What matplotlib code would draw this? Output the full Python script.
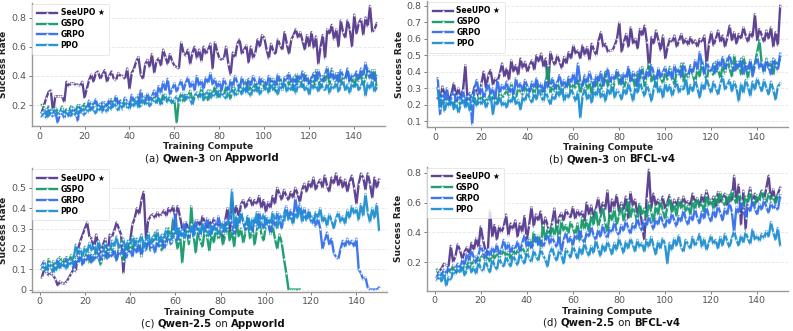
import matplotlib
matplotlib.use("Agg")
import matplotlib.pyplot as plt
import numpy as np

# ---- data (success rate, percent) ----
a_seeupo = [15, 20, 25, 29, 30, 15, 26, 26, 26, 26, 22, 36, 33, 35, 35, 34, 34, 33, 36, 25,
            31, 37, 41, 36, 42, 43, 38, 41, 44, 36, 40, 43, 38, 37, 42, 40, 40, 38, 45, 31,
            42, 45, 50, 53, 41, 38, 48, 51, 46, 55, 42, 50, 52, 47, 58, 53, 48, 55, 50, 47,
            46, 45, 63, 56, 54, 58, 48, 56, 60, 52, 58, 50, 60, 55, 58, 62, 45, 63, 57, 52,
            51, 52, 60, 48, 41, 56, 53, 62, 65, 55, 58, 61, 49, 60, 52, 56, 65, 60, 68, 66,
            58, 52, 62, 57, 55, 65, 61, 58, 70, 62, 55, 65, 68, 72, 66, 70, 64, 58, 68, 60,
            70, 59, 67, 48, 60, 68, 52, 72, 69, 75, 65, 72, 60, 78, 70, 66, 78, 72, 60, 82,
            69, 76, 79, 68, 80, 74, 88, 70, 72, 76]
a_gspo = [20, 18, 16, 19, 14, 17, 18, 16, 15, 19, 14, 17, 16, 19, 18, 15, 20, 17, 18, 21,
          17, 19, 22, 18, 21, 20, 16, 22, 19, 18, 22, 24, 19, 26, 21, 23, 20, 25, 18, 22,
          20, 24, 21, 27, 19, 23, 26, 21, 25, 23, 27, 22, 25, 20, 28, 24, 22, 26, 21, 23,
          8, 24, 28, 22, 27, 25, 30, 23, 26, 29, 24, 32, 26, 28, 23, 30, 27, 33, 25, 29,
          31, 26, 33, 28, 24, 35, 30, 27, 34, 29, 32, 37, 28, 34, 30, 36, 29, 33, 38, 31,
          35, 30, 38, 33, 29, 36, 39, 32, 35, 40, 33, 37, 30, 41, 35, 38, 32, 42, 36, 34,
          39, 33, 44, 37, 31, 40, 36, 43, 34, 45, 38, 35, 42, 33, 40, 37, 44, 35, 39, 32,
          41, 36, 43, 34, 38, 45, 42, 36, 44, 31]
a_grpo = [12, 15, 11, 18, 14, 12, 16, 8, 13, 15, 11, 17, 14, 12, 18, 16, 9, 20, 15, 13,
          17, 23, 16, 20, 24, 18, 21, 15, 22, 19, 24, 18, 21, 26, 20, 23, 17, 25, 22, 19,
          27, 22, 25, 19, 30, 24, 21, 28, 23, 26, 30, 25, 33, 28, 36, 30, 38, 27, 31, 35,
          29, 33, 37, 30, 35, 39, 32, 36, 30, 40, 33, 37, 31, 39, 35, 42, 34, 38, 32, 36,
          30, 38, 34, 29, 37, 33, 40, 35, 31, 39, 34, 29, 38, 33, 40, 36, 31, 39, 35, 37,
          32, 40, 35, 38, 33, 41, 36, 30, 39, 37, 42, 35, 39, 33, 41, 37, 43, 36, 40, 34,
          38, 42, 36, 44, 39, 35, 41, 46, 38, 43, 37, 42, 35, 44, 40, 38, 45, 36, 41, 39,
          43, 37, 45, 40, 49, 42, 38, 44, 36, 40]
a_ppo = [15, 13, 17, 12, 16, 14, 18, 13, 15, 17, 14, 16, 12, 18, 15, 13, 17, 14, 19, 16,
         18, 15, 20, 17, 14, 19, 16, 21, 18, 15, 20, 17, 22, 19, 16, 21, 18, 23, 20, 17,
         22, 19, 24, 18, 21, 25, 20, 23, 19, 22, 24, 21, 26, 20, 23, 27, 22, 25, 21, 24,
         26, 22, 25, 28, 23, 27, 24, 20, 26, 28, 25, 29, 23, 27, 30, 24, 28, 26, 31, 25,
         29, 27, 24, 30, 28, 32, 26, 29, 31, 27, 33, 28, 30, 26, 32, 29, 34, 27, 31, 30,
         33, 28, 35, 30, 32, 27, 34, 31, 36, 29, 33, 30, 35, 28, 34, 32, 36, 30, 33, 27,
         35, 31, 34, 29, 36, 32, 30, 35, 28, 34, 31, 36, 29, 33, 37, 30, 34, 28, 35, 32,
         36, 30, 33, 38, 26, 35, 31, 37, 29, 33]

b_seeupo = [24, 22, 31, 26, 28, 22, 27, 33, 25, 30, 24, 29, 44, 22, 27, 25, 31, 28, 24, 33,
            40, 30, 38, 41, 32, 36, 34, 39, 45, 37, 42, 35, 47, 40, 44, 38, 48, 42, 46, 40,
            44, 47, 41, 50, 46, 51, 43, 48, 30, 52, 47, 44, 50, 46, 42, 49, 45, 52, 48, 56,
            51, 53, 48, 56, 50, 55, 47, 57, 53, 50, 59, 64, 55, 57, 52, 53, 53, 56, 60, 70,
            52, 58, 63, 55, 67, 57, 60, 54, 66, 62, 68, 58, 40, 61, 57, 65, 59, 53, 62, 48,
            55, 60, 58, 62, 55, 59, 63, 57, 60, 56, 61, 57, 59, 55, 60, 58, 62, 44, 57, 64,
            56, 60, 65, 58, 62, 55, 61, 68, 59, 64, 57, 63, 60, 67, 62, 58, 64, 61, 75, 59,
            66, 62, 58, 65, 60, 67, 55, 64, 56, 80]
b_gspo = [30, 24, 20, 22, 25, 21, 23, 19, 24, 22, 20, 23, 25, 21, 24, 26, 22, 20, 25, 23,
          26, 22, 24, 27, 23, 25, 21, 28, 24, 26, 29, 25, 33, 27, 24, 30, 28, 26, 32, 27,
          29, 31, 25, 34, 28, 30, 26, 33, 44, 27, 31, 28, 34, 29, 27, 32, 30, 35, 28, 33,
          30, 36, 27, 32, 38, 29, 34, 26, 35, 31, 37, 29, 33, 40, 31, 36, 28, 34, 41, 32,
          38, 30, 35, 42, 33, 37, 29, 40, 35, 43, 31, 39, 45, 34, 38, 30, 42, 36, 33, 40,
          35, 43, 37, 32, 41, 38, 45, 34, 40, 36, 44, 38, 33, 42, 37, 47, 39, 35, 43, 40,
          38, 46, 41, 36, 44, 39, 48, 42, 37, 50, 41, 46, 38, 49, 43, 36, 47, 40, 45, 52,
          59, 44, 39, 48, 42, 46, 38, 47, 43, 49]
b_grpo = [36, 14, 27, 22, 30, 19, 25, 28, 21, 26, 23, 29, 20, 25, 27, 8, 30, 35, 26, 31,
          24, 28, 33, 26, 30, 23, 35, 27, 32, 29, 34, 27, 31, 25, 36, 30, 33, 28, 35, 31,
          27, 34, 30, 36, 29, 33, 27, 35, 30, 32, 36, 29, 33, 38, 31, 35, 30, 37, 33, 39,
          32, 45, 34, 31, 37, 33, 40, 35, 30, 38, 34, 40, 31, 36, 42, 33, 38, 35, 41, 37,
          32, 39, 36, 43, 34, 40, 37, 31, 42, 38, 35, 41, 37, 44, 39, 34, 42, 36, 40, 43,
          37, 41, 35, 44, 39, 42, 36, 45, 40, 38, 43, 39, 47, 41, 52, 44, 38, 46, 42, 40,
          45, 39, 47, 43, 49, 41, 46, 50, 44, 40, 46, 42, 48, 38, 45, 41, 47, 37, 44, 49,
          42, 46, 40, 47, 43, 38, 48, 44, 41, 51]
b_ppo = [30, 18, 24, 16, 22, 19, 23, 17, 21, 15, 20, 24, 18, 22, 16, 21, 25, 19, 23, 20,
         24, 18, 22, 26, 14, 23, 20, 25, 19, 22, 18, 24, 21, 26, 20, 23, 17, 25, 22, 28,
         24, 21, 27, 23, 30, 25, 22, 28, 24, 20, 26, 23, 29, 25, 31, 22, 27, 24, 30, 26,
         22, 28, 12, 25, 30, 23, 27, 21, 29, 25, 31, 24, 28, 22, 30, 26, 32, 24, 29, 27,
         23, 30, 26, 33, 28, 22, 31, 27, 34, 29, 25, 32, 28, 22, 30, 35, 27, 31, 24, 33,
         28, 32, 25, 30, 34, 27, 31, 29, 36, 26, 32, 28, 35, 30, 24, 33, 29, 36, 31, 27,
         34, 30, 26, 33, 37, 29, 32, 35, 28, 34, 30, 22, 33, 27, 35, 31, 25, 34, 29, 36,
         32, 28, 35, 30, 26, 34, 29, 23, 31, 33]

c_seeupo = [6, 10, 9, 7, 8, 7, 5, 2, 4, 3, 3, 4, 6, 8, 10, 9, 20, 24, 27, 30,
            33, 26, 25, 20, 27, 22, 18, 22, 25, 17, 27, 26, 29, 33, 30, 27, 8, 22, 20, 24,
            32, 35, 40, 37, 44, 48, 25, 34, 36, 37, 35, 38, 36, 37, 39, 36, 40, 38, 41, 35,
            41, 36, 30, 28, 33, 27, 33, 30, 32, 34, 31, 36, 33, 30, 34, 31, 35, 29, 33, 31,
            25, 34, 40, 28, 44, 37, 41, 35, 42, 44, 40, 43, 45, 41, 44, 42, 46, 40, 44, 38,
            43, 40, 46, 42, 50, 47, 44, 49, 46, 44, 48, 45, 50, 47, 43, 49, 52, 48, 53, 50,
            55, 49, 52, 54, 50, 56, 51, 48, 55, 52, 57, 51, 55, 50, 54, 48, 53, 56, 50, 42,
            52, 57, 55, 49, 57, 52, 45, 55, 50, 54]
c_gspo = [10, 13, 8, 15, 11, 14, 9, 13, 16, 12, 15, 11, 14, 17, 10, 16, 13, 18, 12, 15,
          19, 13, 17, 14, 20, 16, 12, 18, 15, 19, 16, 21, 17, 15, 20, 18, 14, 22, 17, 23,
          19, 25, 18, 22, 16, 24, 20, 26, 19, 23, 28, 21, 25, 19, 27, 22, 30, 24, 35, 26,
          20, 28, 13, 25, 30, 22, 41, 27, 18, 29, 24, 21, 30, 26, 19, 28, 23, 31, 25, 29,
          22, 27, 32, 24, 29, 21, 33, 26, 30, 23, 28, 34, 25, 31, 22, 29, 35, 27, 24, 32,
          35, 27, 31, 25, 20, 27, 23, 15, 8, 0, 0, 0, 0, 0, 0]
c_grpo = [12, 14, 8, 11, 13, 9, 12, 15, 10, 13, 11, 16, 12, 14, 10, 15, 13, 17, 12, 16,
          14, 18, 13, 17, 15, 19, 14, 16, 20, 15, 18, 16, 20, 14, 19, 17, 21, 15, 18, 20,
          16, 22, 18, 24, 17, 21, 19, 25, 20, 23, 18, 24, 21, 26, 20, 23, 27, 22, 25, 38,
          24, 30, 26, 33, 28, 25, 31, 27, 34, 29, 26, 32, 28, 35, 30, 27, 33, 29, 36, 31,
          28, 34, 30, 37, 32, 27, 35, 31, 38, 33, 29, 36, 32, 28, 35, 31, 38, 33, 30, 36,
          32, 28, 35, 31, 38, 34, 30, 37, 41, 35, 39, 33, 45, 37, 42, 36, 40, 34, 38, 33,
          36, 31, 35, 30, 20, 24, 28, 22, 25, 18, 16, 15, 20, 24, 21, 25, 22, 24, 21, 25,
          10, 8, 5, 6, 1, 0, 0, 0, 0, 1]
c_ppo = [10, 12, 9, 13, 11, 8, 12, 10, 14, 11, 13, 10, 14, 12, 15, 22, 17, 20, 16, 21,
         18, 23, 19, 22, 17, 24, 20, 18, 23, 21, 19, 24, 21, 26, 20, 23, 25, 19, 24, 22,
         26, 21, 25, 23, 27, 20, 24, 28, 22, 26, 24, 29, 23, 27, 25, 30, 26, 24, 29, 27,
         31, 26, 29, 25, 30, 28, 32, 26, 29, 31, 27, 33, 28, 30, 26, 32, 29, 31, 27, 30,
         33, 28, 31, 34, 49, 30, 36, 32, 38, 33, 31, 36, 29, 35, 32, 38, 30, 34, 37, 31,
         35, 32, 38, 34, 30, 37, 35, 33, 40, 34, 36, 32, 38, 35, 41, 33, 37, 34, 39, 35,
         32, 38, 35, 40, 33, 36, 31, 37, 34, 30, 35, 38, 33, 36, 32, 39, 35, 41, 37, 40,
         34, 42, 36, 47, 38, 33, 40, 35, 42, 29]

d_seeupo = [10, 14, 16, 19, 18, 17, 31, 20, 24, 32, 28, 22, 27, 30, 25, 33, 28, 36, 30, 44,
            35, 28, 25, 55, 37, 45, 35, 44, 40, 44, 52, 38, 46, 42, 48, 37, 46, 40, 51, 35,
            45, 57, 44, 52, 48, 54, 42, 50, 45, 38, 47, 56, 42, 50, 53, 48, 55, 52, 50, 57,
            49, 55, 51, 54, 47, 60, 52, 58, 50, 56, 63, 53, 60, 55, 68, 50, 62, 57, 65, 54,
            60, 55, 64, 49, 67, 58, 62, 52, 59, 45, 35, 63, 82, 56, 66, 58, 62, 57, 64, 56,
            60, 65, 55, 62, 58, 63, 57, 64, 59, 61, 58, 66, 60, 63, 57, 65, 60, 68, 62, 59,
            64, 57, 67, 60, 63, 66, 58, 65, 61, 78, 60, 72, 45, 68, 42, 63, 70, 58, 66, 60,
            64, 68, 62, 70, 78, 61, 69, 60, 66, 70]
d_gspo = [15, 10, 12, 14, 11, 16, 13, 18, 12, 15, 17, 14, 20, 16, 22, 18, 21, 24, 19, 23,
          25, 21, 24, 20, 26, 22, 27, 23, 25, 28, 24, 27, 22, 29, 25, 28, 26, 30, 27, 24,
          36, 29, 40, 33, 38, 30, 45, 35, 42, 37, 44, 38, 46, 34, 48, 41, 45, 39, 47, 43,
          38, 46, 34, 50, 42, 48, 40, 52, 45, 55, 44, 50, 57, 47, 40, 53, 48, 56, 45, 51,
          58, 48, 54, 62, 50, 57, 53, 46, 59, 52, 56, 50, 60, 54, 47, 58, 52, 61, 55, 49,
          57, 63, 53, 59, 51, 62, 56, 60, 54, 58, 52, 61, 55, 63, 57, 60, 53, 65, 58, 62,
          56, 64, 59, 67, 61, 58, 65, 60, 68, 63, 59, 66, 62, 57, 64, 60, 67, 62, 58, 65,
          61, 68, 63, 60, 66, 62, 64, 59, 65, 63]
d_grpo = [10, 13, 11, 15, 12, 17, 14, 12, 16, 19, 15, 22, 18, 26, 21, 28, 23, 19, 25, 31,
          27, 22, 29, 24, 30, 26, 32, 25, 29, 35, 28, 33, 26, 31, 29, 34, 27, 33, 38, 30,
          35, 29, 33, 38, 31, 36, 30, 34, 39, 32, 37, 33, 30, 38, 27, 35, 40, 33, 37, 31,
          39, 35, 42, 36, 33, 40, 37, 44, 38, 35, 42, 37, 45, 39, 36, 43, 40, 47, 41, 38,
          45, 41, 48, 43, 39, 46, 42, 50, 44, 41, 48, 44, 51, 46, 42, 49, 45, 52, 47, 43,
          50, 46, 53, 48, 44, 51, 47, 55, 49, 45, 52, 48, 56, 50, 46, 54, 49, 57, 51, 47,
          55, 50, 58, 53, 48, 56, 52, 60, 54, 40, 57, 53, 61, 55, 50, 58, 54, 62, 56, 52,
          59, 55, 62, 57, 53, 60, 56, 58, 55, 65]
d_ppo = [8, 11, 7, 13, 4, 10, 8, 14, 12, 16, 13, 18, 11, 15, 19, 13, 17, 12, 20, 16,
         14, 21, 17, 13, 22, 18, 15, 23, 19, 17, 24, 20, 17, 25, 21, 18, 26, 22, 19, 27,
         23, 20, 28, 24, 21, 29, 25, 22, 17, 26, 30, 24, 21, 28, 25, 19, 29, 26, 23, 31,
         27, 22, 30, 25, 33, 28, 24, 31, 26, 35, 29, 24, 32, 27, 34, 30, 25, 33, 28, 36,
         31, 26, 34, 29, 36, 32, 27, 35, 30, 33, 27, 35, 30, 37, 31, 25, 34, 29, 36, 32,
         19, 33, 28, 36, 31, 38, 30, 27, 35, 32, 29, 37, 31, 34, 39, 30, 36, 28, 33, 38,
         32, 35, 29, 37, 31, 39, 34, 30, 36, 41, 35, 31, 38, 33, 40, 36, 32, 42, 35, 38,
         34, 39, 36, 41, 37, 47, 40, 35, 43, 31]

methods = ["SeeUPO \u2605", "GSPO", "GRPO", "PPO"]
colors = ["#553a8c", "#16996b", "#3470ea", "#1f8fd0"]

panels = [
    dict(series=[a_seeupo, a_gspo, a_grpo, a_ppo], model="Qwen-3", env="Appworld", tag="(a)",
         rect=[0.040, 0.619, 0.445, 0.372], ylim=(0.056, 0.90), yticks=[0.2, 0.4, 0.6, 0.8]),
    dict(series=[b_seeupo, b_gspo, b_grpo, b_ppo], model="Qwen-3", env="BFCL-v4", tag="(b)",
         rect=[0.539, 0.616, 0.455, 0.381], ylim=(0.064, 0.83),
         yticks=[0.1, 0.2, 0.3, 0.4, 0.5, 0.6, 0.7, 0.8]),
    dict(series=[c_seeupo, c_gspo, c_grpo, c_ppo], model="Qwen-2.5", env="Appworld", tag="(c)",
         rect=[0.040, 0.119, 0.448, 0.372], ylim=(-0.01, 0.595),
         yticks=[0, 0.1, 0.2, 0.3, 0.4, 0.5]),
    dict(series=[d_seeupo, d_gspo, d_grpo, d_ppo], model="Qwen-2.5", env="BFCL-v4", tag="(d)",
         rect=[0.538, 0.122, 0.456, 0.374], ylim=(0.01, 0.84), yticks=[0.2, 0.4, 0.6, 0.8]),
]

fig = plt.figure(figsize=(7.93, 3.31), dpi=100)
renderer = fig.canvas.get_renderer()


def caption(cx, cy, tag, model, env):
    parts = [(tag + " ", "normal"), (model, "bold"), (" on ", "normal"), (env, "bold")]
    texts = [fig.text(0, cy, s, fontsize=7.3, fontweight=w, va="center", ha="left",
                      color="#111111") for s, w in parts]
    widths = [t.get_window_extent(renderer).width / fig.bbox.width for t in texts]
    x = cx - sum(widths) / 2
    for t, w in zip(texts, widths):
        t.set_x(x)
        x += w


for p in panels:
    ax = fig.add_axes(p["rect"])
    for vals, name, col in zip(p["series"], methods, colors):
        x = np.arange(1, len(vals) + 1)
        ax.plot(x, np.array(vals) / 100.0, color=col, lw=1.7, label=name,
                marker="o", ms=1.5, mfc="white", mec="white", mew=0, alpha=0.95)
    ax.set_xlim(-3.5, 153.5)
    ax.set_ylim(*p["ylim"])
    ax.set_xticks([0, 20, 40, 60, 80, 100, 120, 140])
    ax.set_yticks(p["yticks"])
    ax.set_yticklabels([f"{v:g}" for v in p["yticks"]])
    ax.tick_params(labelsize=6.8, colors="#666666", length=2.5, width=0.6, pad=1.5)
    ax.tick_params(axis="both", labelcolor="#555555")
    ax.grid(axis="y", color="#e6e6e6", lw=0.6, ls="--")
    ax.set_axisbelow(True)
    for s in ["top", "right"]:
        ax.spines[s].set_visible(False)
    for s in ["left", "bottom"]:
        ax.spines[s].set_color("#999999")
        ax.spines[s].set_linewidth(1.0)
    ax.set_xlabel("Training Compute", fontsize=6.5, fontweight="bold", color="#222222", labelpad=1)
    ax.set_ylabel("Success Rate", fontsize=6.5, fontweight="bold", color="#222222", labelpad=2)
    leg = ax.legend(loc="upper left", prop={"weight": "bold", "size": 5.5},
                    frameon=True, fancybox=True, handlelength=2.6, labelspacing=0.25,
                    borderpad=0.6, handletextpad=0.5, borderaxespad=0.1)
    leg.get_frame().set_edgecolor("#dddddd")
    leg.get_frame().set_linewidth(0.6)
    r = p["rect"]
    caption(r[0] + r[2] / 2 + 0.005, r[1] - 0.097, p["tag"], p["model"], p["env"])

fig.savefig("out.png", dpi=100)
